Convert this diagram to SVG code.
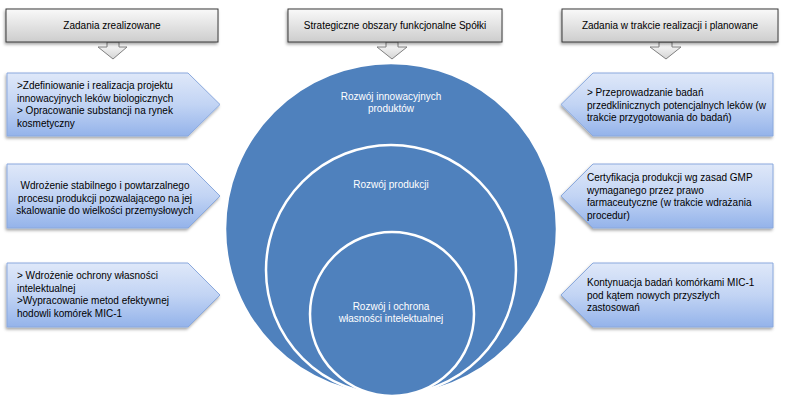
<svg xmlns="http://www.w3.org/2000/svg" width="793" height="400" viewBox="0 0 793 400">
<defs>
<linearGradient id="gh" x1="0" y1="0" x2="0" y2="1">
<stop offset="0" stop-color="#f9f9f9"/>
<stop offset="1" stop-color="#cdcdcd"/>
</linearGradient>
<linearGradient id="ga" x1="0" y1="0" x2="0" y2="1">
<stop offset="0" stop-color="#ffffff"/>
<stop offset="1" stop-color="#d4d4d4"/>
</linearGradient>
<linearGradient id="gb" x1="0" y1="0" x2="0" y2="1">
<stop offset="0" stop-color="#dfe8f9"/>
<stop offset="0.5" stop-color="#c2d4f4"/>
<stop offset="1" stop-color="#94b3ea"/>
</linearGradient>
<filter id="sh" x="-10%" y="-20%" width="120%" height="150%">
<feDropShadow dx="-1" dy="2" stdDeviation="1.5" flood-color="#000" flood-opacity="0.35"/>
</filter>
</defs>
<style>
.t{font-family:"Liberation Sans",Arial,sans-serif;font-size:10px;fill:#000}
.w{font-family:"Liberation Sans",Arial,sans-serif;font-size:10px;fill:#fff;text-anchor:middle}
.c{text-anchor:middle}
.hdr{fill:url(#gh);stroke:#3a3a3a;stroke-width:1;filter:url(#sh)}
.arr{fill:url(#ga);stroke:#808080;stroke-width:1}
.pent{fill:url(#gb);stroke:#8aa9de;stroke-width:1;filter:url(#sh)}
.ring{fill:#4f81bd;stroke:#fff;stroke-width:2.5}
</style>
<rect width="793" height="400" fill="#fff"/>

<g id="header-left">
<path class="arr" d="M107,42 V47 H98 L113,59 L127,47 H119 V42 Z"/>
<rect class="hdr" x="6" y="9" width="212" height="33"/>
<text class="t c" x="112" y="29">Zadania zrealizowane</text>
</g>
<g id="header-center">
<path class="arr" d="M386,42 V47 H377 L392,59 L407,47 H398 V42 Z"/>
<rect class="hdr" x="288" y="9" width="214" height="33"/>
<text class="t c" x="395" y="29">Strategiczne obszary  funkcjonalne Spółki</text>
</g>
<g id="header-right">
<path class="arr" d="M659,42 V47 H650 L666,59 L681,47 H672 V42 Z"/>
<rect class="hdr" x="562" y="9" width="216" height="33"/>
<text class="t c" x="670" y="29">Zadania w trakcie realizacji i planowane</text>
</g>

<g id="circles">
<circle class="ring" cx="391" cy="229" r="166"/>
<circle class="ring" cx="391" cy="270" r="125"/>
<circle class="ring" cx="392" cy="314" r="82"/>
<text class="w" x="391" y="100">Rozwój innowacyjnych</text>
<text class="w" x="391" y="112">produktów</text>
<text class="w" x="391" y="188">Rozwój produkcji</text>
<text class="w" x="391" y="310">Rozwój i ochrona</text>
<text class="w" x="391" y="322">własności intelektualnej</text>
</g>

<g id="left-1">
<path class="pent" d="M7,73 H188 L220,104.5 L188,136 H7 Z"/>
<text class="t" x="17" y="89">&gt;Zdefiniowanie i realizacja projektu</text>
<text class="t" x="17" y="101.5">innowacyjnych leków biologicznych</text>
<text class="t" x="17" y="114">&gt; Opracowanie substancji na rynek</text>
<text class="t" x="17" y="126.5">kosmetyczny</text>
</g>
<g id="left-2">
<path class="pent" d="M7,164 H188 L220,196 L188,228 H7 Z"/>
<text class="t c" x="105" y="189">Wdrożenie stabilnego i powtarzalnego</text>
<text class="t c" x="105" y="201.5">procesu produkcji pozwalającego na jej</text>
<text class="t c" x="105" y="214">skalowanie do wielkości przemysłowych</text>
</g>
<g id="left-3">
<path class="pent" d="M7,263 H188 L220,295 L188,327 H7 Z"/>
<text class="t" x="17" y="279">&gt; Wdrożenie ochrony własności</text>
<text class="t" x="17" y="291.5">intelektualnej</text>
<text class="t" x="17" y="304">&gt;Wypracowanie metod efektywnej</text>
<text class="t" x="17" y="316.5">hodowli komórek MIC-1</text>
</g>

<g id="right-1">
<path class="pent" d="M561,104.5 L593,73 H773 V136 H593 Z"/>
<text class="t" x="587" y="96">&gt; Przeprowadzanie badań</text>
<text class="t" x="587" y="108.5">przedklinicznych potencjalnych leków (w</text>
<text class="t" x="587" y="121">trakcie przygotowania do badań)</text>
</g>
<g id="right-2">
<path class="pent" d="M561,196 L593,164 H773 V228 H593 Z"/>
<text class="t" x="587" y="181">Certyfikacja produkcji wg zasad GMP</text>
<text class="t" x="587" y="193.5">wymaganego przez prawo</text>
<text class="t" x="587" y="206">farmaceutyczne (w trakcie wdrażania</text>
<text class="t" x="587" y="218.5">procedur)</text>
</g>
<g id="right-3">
<path class="pent" d="M561,295 L593,263 H773 V327 H593 Z"/>
<text class="t" x="587" y="286">Kontynuacja badań komórkami MIC-1</text>
<text class="t" x="587" y="298.5">pod kątem nowych przyszłych</text>
<text class="t" x="587" y="311">zastosowań</text>
</g>
</svg>
